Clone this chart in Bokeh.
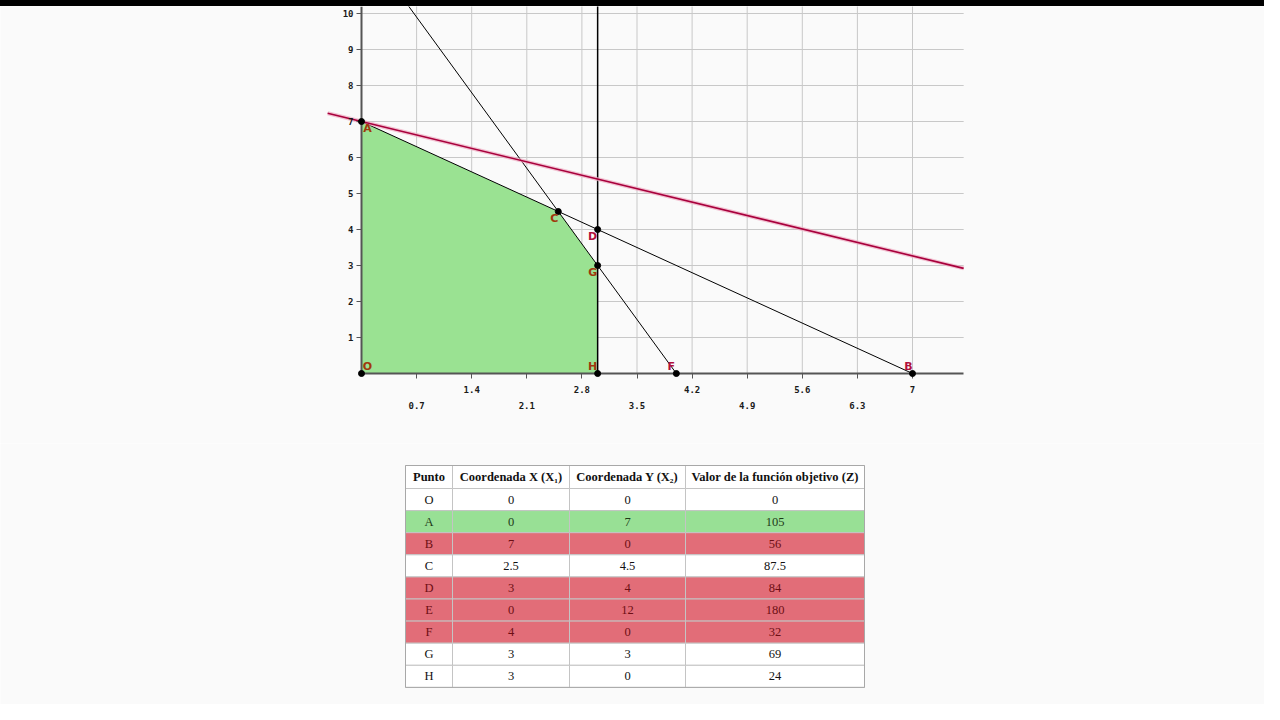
from bokeh.plotting import figure
from bokeh.models import Range1d, LinearAxis, FixedTicker, ColumnDataSource, Div
from bokeh.layouts import column
from bokeh.core.properties import value
from bokeh.embed import file_html
from bokeh.resources import INLINE

# ---------------- data ----------------
puntos = ["O", "A", "B", "C", "D", "E", "F", "G", "H"]
x1_vals = [0, 0, 7, 2.5, 3, 0, 4, 3, 3]
x2_vals = [0, 7, 0, 4.5, 4, 12, 0, 3, 0]
z_vals = [0, 105, 56, 87.5, 84, 180, 32, 69, 24]
estado = ["", "optimo", "no", "", "no", "no", "no", "", ""]

region_x = [0, 0, 2.5, 3, 3]
region_y = [0, 7, 4.5, 3, 0]

r1_x = [0, 7]
r1_y = [7, 0]
r2_x = [0, 4]
r2_y = [12, 0]
r3_x = [3, 3]
r3_y = [0, 12]
obj_x = [-0.43, 7.65]
obj_y = [7.23, 2.92]

x_ticks = [0.7, 1.4, 2.1, 2.8, 3.5, 4.2, 4.9, 5.6, 6.3, 7.0]
x_tick_labels = ["0.7", "1.4", "2.1", "2.8", "3.5", "4.2", "4.9", "5.6", "6.3", "7"]
y_ticks = [1, 2, 3, 4, 5, 6, 7, 8, 9, 10]
y_tick_labels = ["1", "2", "3", "4", "5", "6", "7", "8", "9", "10"]

headers = ["Punto", "Coordenada X (X\u2081)", "Coordenada Y (X\u2082)",
           "Valor de la funci\u00f3n objetivo (Z)"]

# ---------------- styles ----------------
BG = "#fafafa"
AX = "#555555"
GRID = "#c8c8c8"
W = 1264
BAR_H = 6
H1 = 437
H2 = 261
FIG1_TOP = BAR_H
FIG2_TOP = FIG1_TOP + H1
X0_PX, Y0_PX = 361, 373
PX = 551 / 7.0
PY = 36.0
X_END = 7.65
Y_TOP = 10.6

xr = Range1d((0 - X0_PX) / PX, (W - X0_PX) / PX)
yr = Range1d((Y0_PX - (FIG1_TOP + H1)) / PY, (Y0_PX - FIG1_TOP) / PY)

p = figure(width=W, height=H1, x_range=xr, y_range=yr, output_backend="svg",
           toolbar_location=None, x_axis_type=None, y_axis_type=None,
           min_border=0, min_border_left=0, min_border_right=0,
           min_border_top=0, min_border_bottom=0,
           background_fill_color=BG, border_fill_color=BG,
           outline_line_color=None)

# grid
p.segment(x0=x_ticks, y0=[0] * len(x_ticks), x1=x_ticks, y1=[Y_TOP] * len(x_ticks),
          line_color=GRID, line_width=1)
p.segment(x0=[0] * len(y_ticks), y0=y_ticks, x1=[X_END] * len(y_ticks), y1=y_ticks,
          line_color=GRID, line_width=1)

# feasible region
p.patch(region_x, region_y, fill_color="#9ae292", line_color=None)

# constraint lines
p.line(r1_x, r1_y, line_color="black", line_width=1)
p.line(r2_x, r2_y, line_color="black", line_width=1)
p.line(r3_x, r3_y, line_color="black", line_width=1.5)

# objective line
p.line(obj_x, obj_y, line_color="#eeaac0", line_width=4, line_alpha=0.7)
p.line(obj_x, obj_y, line_color="#a8003c", line_width=1.6)

# axes
even_t = x_ticks[1::2]
odd_t = x_ticks[0::2]
even_l = x_tick_labels[1::2]
odd_l = x_tick_labels[0::2]

def style_axis(ax):
    ax.major_label_text_font = "DejaVu Sans Mono"
    ax.major_label_text_font_size = "9px"
    ax.major_label_text_font_style = "bold"
    ax.major_label_text_color = "#1a1a1a"
    ax.minor_tick_out = 0
    ax.minor_tick_in = 0
    ax.major_tick_in = 0

xa1 = LinearAxis(fixed_location=0, bounds=(0, X_END), ticker=FixedTicker(ticks=even_t),
                 major_label_overrides=dict(zip(even_t, even_l)))
style_axis(xa1)
xa1.major_tick_out = 5
xa1.major_label_standoff = 7
xa1.axis_line_color = AX
xa1.axis_line_width = 2
xa1.major_tick_line_color = AX
p.add_layout(xa1, "below")

xa2 = LinearAxis(fixed_location=0, bounds=(0, X_END), ticker=FixedTicker(ticks=odd_t),
                 major_label_overrides=dict(zip(odd_t, odd_l)))
style_axis(xa2)
xa2.major_tick_out = 5
xa2.major_label_standoff = 23
xa2.axis_line_color = None
xa2.major_tick_line_color = AX
p.add_layout(xa2, "below")

ya = LinearAxis(fixed_location=0, bounds=(0, Y_TOP), ticker=FixedTicker(ticks=y_ticks),
                major_label_overrides=dict(zip(y_ticks, y_tick_labels)))
style_axis(ya)
ya.major_tick_out = 5
ya.major_label_standoff = 3
ya.axis_line_color = AX
ya.axis_line_width = 2
ya.major_tick_line_color = AX
p.add_layout(ya, "left")

# points and labels: only the vertices inside the visible window (E is off-chart)
lbl_dx = [6, 6, -4, -4, -5, 6, -5, -5, -5]
lbl_dy = [-7, 7, -7, 7, 7, 7, -7, 7, -7]
lbl_col = ["#a0380c", "#a0380c", "#b0103c", "#a0380c", "#b0103c", "#b0103c",
           "#b0103c", "#a0380c", "#a0380c"]
vis = [i for i in range(len(puntos)) if x2_vals[i] <= yr.end]
src = ColumnDataSource(dict(x=[x1_vals[i] for i in vis], y=[x2_vals[i] for i in vis],
                            name=[puntos[i] for i in vis], dx=[lbl_dx[i] for i in vis],
                            dy=[lbl_dy[i] for i in vis], col=[lbl_col[i] for i in vis]))
pts = p.scatter("x", "y", source=src, size=6, fill_color="black", line_color="black")
pts.level = "overlay"
lbl = p.text("x", "y", text="name", source=src, x_offset="dx", y_offset="dy",
             text_color="col", text_font=value("DejaVu Sans"), text_font_size="11px",
             text_font_style="bold", text_align="center", text_baseline="middle")
lbl.level = "overlay"

# ---------------- table ----------------
col_edges = [405, 452, 569, 685, 864]
HEAD_TOP, HEAD_BOT = 465, 488
ROW_H = 22.1

t = figure(width=W, height=H2, x_range=Range1d(0, W),
           y_range=Range1d(FIG2_TOP + H2, FIG2_TOP), output_backend="svg",
           toolbar_location=None, x_axis_type=None, y_axis_type=None,
           min_border=0, min_border_left=0, min_border_right=0,
           min_border_top=0, min_border_bottom=0,
           background_fill_color=BG, border_fill_color=BG, outline_line_color=None)

fill_map = {"optimo": "#98e095", "no": "#e26d78", "": "#ffffff"}
text_map = {"optimo": "#1e3a18", "no": "#6e0f14", "": "#111111"}

def fmt(v):
    return str(int(v)) if float(v).is_integer() else str(v)

hl, hr, hx = [], [], []
for c in range(4):
    hl.append(col_edges[c])
    hr.append(col_edges[c + 1])
    hx.append((col_edges[c] + col_edges[c + 1]) / 2)
t.quad(left=hl, right=hr, top=[HEAD_TOP] * 4, bottom=[HEAD_BOT] * 4,
       fill_color="#ffffff", line_color="#c4c4c4", line_width=1)
t.text(x=hx, y=[(HEAD_TOP + HEAD_BOT) / 2] * 4, text=headers,
       text_font=value("Liberation Serif"), text_font_size="12.5px",
       text_font_style="bold", text_align="center", text_baseline="middle",
       text_color="#111111")

cl, cr, ct, cb, cf, cx, cy, ctxt, ccol = [], [], [], [], [], [], [], [], []
for i, name in enumerate(puntos):
    vals = [name, fmt(x1_vals[i]), fmt(x2_vals[i]), fmt(z_vals[i])]
    top = HEAD_BOT + i * ROW_H
    for c in range(4):
        cl.append(col_edges[c])
        cr.append(col_edges[c + 1])
        ct.append(top)
        cb.append(top + ROW_H)
        cf.append(fill_map[estado[i]])
        cx.append((col_edges[c] + col_edges[c + 1]) / 2)
        cy.append(top + ROW_H / 2)
        ctxt.append(vals[c])
        ccol.append(text_map[estado[i]])
cells = ColumnDataSource(dict(l=cl, r=cr, t=ct, b=cb, f=cf, x=cx, y=cy, s=ctxt, c=ccol))
t.quad(left="l", right="r", top="t", bottom="b", fill_color="f", source=cells,
       line_color="#c4c4c4", line_width=1)
t.text(x="x", y="y", text="s", text_color="c", source=cells,
       text_font=value("Liberation Serif"), text_font_size="12.5px",
       text_align="center", text_baseline="middle")
t.quad(left=[col_edges[0]], right=[col_edges[-1]], top=[HEAD_TOP],
       bottom=[HEAD_BOT + len(puntos) * ROW_H], fill_color=None,
       line_color="#a8a8a8", line_width=1)

top_bar = Div(text="", width=W, height=BAR_H, margin=0,
              styles={"background-color": "#000000"})

layout = column(top_bar, p, t, spacing=0)
open("out.html", "w").write(file_html(layout, INLINE))
